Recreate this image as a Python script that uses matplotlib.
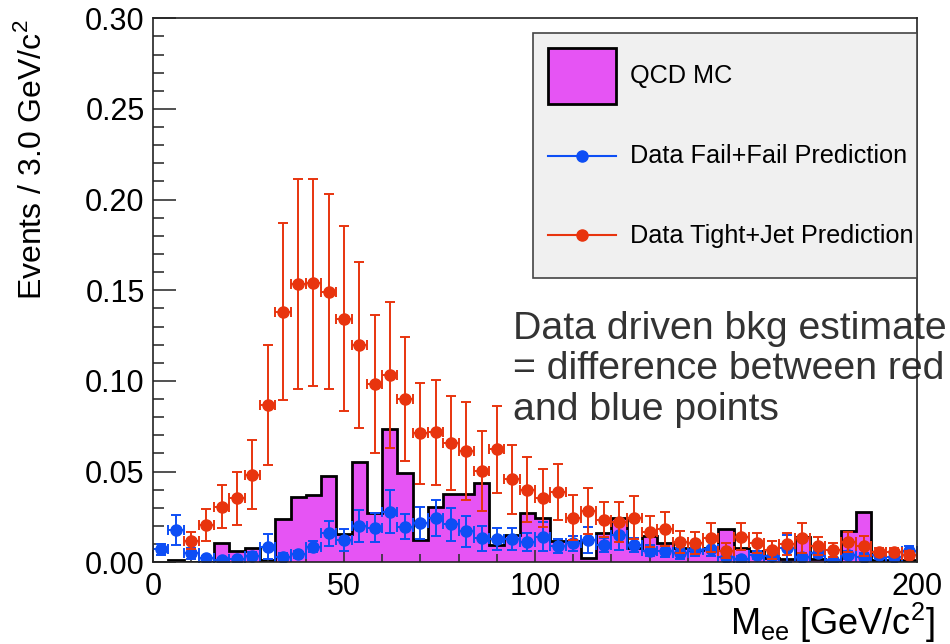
import numpy as np
import matplotlib
matplotlib.use('Agg')
import matplotlib.pyplot as plt
from matplotlib.lines import Line2D
from matplotlib.patches import Patch
from matplotlib.legend_handler import HandlerLine2D
from matplotlib.ticker import MultipleLocator, FormatStrFormatter

plt.rcParams['font.family'] = ['Liberation Sans', 'DejaVu Sans']
plt.rcParams['mathtext.fontset'] = 'custom'
plt.rcParams['mathtext.rm'] = 'Liberation Sans'

# 50 bins of 4 GeV between 0 and 200
edges = np.arange(0, 201, 4)

qcd_mc = [0.0, 0.001, 0.0, 0.0, 0.0108, 0.0064, 0.0077, 0.0013, 0.0239, 0.0362,
          0.0371, 0.0476, 0.0154, 0.0551, 0.0270, 0.0734, 0.0490, 0.0123, 0.0307, 0.0375,
          0.0375, 0.0436, 0.0096, 0.0150, 0.0274, 0.0246, 0.0120, 0.0120, 0.0022, 0.0160,
          0.0243, 0.0077, 0.0147, 0.0108, 0.0080, 0.0068, 0.0077, 0.0182, 0.0077, 0.0060,
          0.0022, 0.0020, 0.0140, 0.0020, 0.0015, 0.0175, 0.0276, 0.0010, 0.0010, 0.0010]

fail_x = np.arange(2, 200, 4)
fail_y = [0.0072, 0.0178, 0.0050, 0.0022, 0.0013, 0.0017, 0.0035, 0.0086, 0.0030, 0.0044,
          0.0086, 0.0160, 0.0125, 0.0200, 0.0190, 0.0280, 0.0197, 0.0215, 0.0243, 0.0210,
          0.0170, 0.0132, 0.0127, 0.0127, 0.0110, 0.0142, 0.0090, 0.0105, 0.0123, 0.0096,
          0.0150, 0.0096, 0.0065, 0.0060, 0.0050, 0.0066, 0.0075, 0.0030, 0.0017, 0.0040,
          0.0035, 0.0077, 0.0030, 0.0050, 0.0013, 0.0040, 0.0030, 0.0040, 0.0030, 0.0060]
fail_err = [0.003, 0.0085, 0.003, 0.0015, 0.001, 0.0012, 0.002, 0.007, 0.002, 0.002,
            0.003, 0.007, 0.006, 0.0088, 0.008, 0.012, 0.007, 0.0088, 0.0098, 0.009,
            0.0083, 0.007, 0.006, 0.006, 0.005, 0.008, 0.004, 0.004, 0.007, 0.004,
            0.008, 0.004, 0.003, 0.003, 0.003, 0.003, 0.004, 0.002, 0.0015, 0.002,
            0.002, 0.0075, 0.002, 0.002, 0.001, 0.002, 0.002, 0.002, 0.002, 0.003]

tight_x = np.arange(10, 200, 4)
tight_y = [0.0120, 0.0206, 0.0307, 0.0353, 0.0482, 0.0868, 0.1383, 0.1535, 0.1543, 0.1493,
           0.1342, 0.1198, 0.0982, 0.1033, 0.0900, 0.0711, 0.0717, 0.0656, 0.0616, 0.0504,
           0.0623, 0.0458, 0.0400, 0.0357, 0.0387, 0.0247, 0.0283, 0.0235, 0.0220, 0.0247,
           0.0168, 0.0185, 0.0110, 0.0108, 0.0135, 0.0064, 0.0142, 0.0108, 0.0068, 0.0101,
           0.0132, 0.0092, 0.0068, 0.0114, 0.0092, 0.0059, 0.0059, 0.0040]
tight_err = [0.0046, 0.0088, 0.012, 0.0145, 0.019, 0.033, 0.049, 0.058, 0.057, 0.054,
             0.051, 0.046, 0.038, 0.040, 0.034, 0.028, 0.029, 0.026, 0.027, 0.022,
             0.024, 0.019, 0.018, 0.016, 0.0155, 0.0125, 0.0125, 0.0097, 0.011, 0.012,
             0.0085, 0.0093, 0.006, 0.006, 0.008, 0.004, 0.0073, 0.0055, 0.005, 0.006,
             0.0083, 0.005, 0.004, 0.0055, 0.0055, 0.002, 0.002, 0.002]

magenta = '#e654f4'
blue = '#0d4ef5'
red = '#e8340e'


class CenteredLine(HandlerLine2D):
    # put the line handle at the middle of the tall legend rows
    def create_artists(self, legend, orig_handle, xdescent, ydescent, width, height,
                       fontsize, trans):
        arts = super().create_artists(legend, orig_handle, xdescent, ydescent, width,
                                      height, fontsize, trans)
        for a in arts:
            a.set_ydata(np.asarray(a.get_ydata()) - ydescent / 2)
        return arts


fig = plt.figure(figsize=(9.5, 6.44), dpi=100)
ax = fig.add_axes([153 / 950, 81.7 / 644, 764 / 950, 544 / 644])

ax.stairs(qcd_mc, edges, fill=True, facecolor=magenta, edgecolor='none', zorder=1)
ax.stairs(qcd_mc, edges, color='black', linewidth=2, zorder=1.1)

ax.errorbar(fail_x, fail_y, xerr=2, yerr=fail_err, fmt='o', color=blue, ms=8,
            elinewidth=1.4, capsize=3.5, capthick=1.4, zorder=2)
ax.errorbar(tight_x, tight_y, xerr=2, yerr=tight_err, fmt='o', color=red, ms=8,
            elinewidth=1.4, capsize=3.5, capthick=1.4, zorder=2.1)

ax.set_xlim(0, 200)
ax.set_ylim(0, 0.30)
ax.xaxis.set_major_locator(MultipleLocator(50))
ax.xaxis.set_minor_locator(MultipleLocator(10))
ax.yaxis.set_major_locator(MultipleLocator(0.05))
ax.yaxis.set_minor_locator(MultipleLocator(0.01))
ax.yaxis.set_major_formatter(FormatStrFormatter('%.2f'))
ax.tick_params(axis='both', which='both', direction='in', top=False, right=False,
               labelsize=22, width=1.2, color='#333333')
ax.tick_params(axis='y', which='major', length=16.5, pad=6)
ax.tick_params(axis='y', which='minor', length=8)
ax.tick_params(axis='x', which='major', length=8.6, pad=7)
ax.tick_params(axis='x', which='minor', length=5.8)
for s in ax.spines.values():
    s.set_linewidth(1.2)
    s.set_color('#222222')

ax.set_xlabel(r'M$_{\rm ee}$ [GeV/c$^{2}$]', fontsize=26, ha='right', va='baseline')
ax.xaxis.set_label_coords(1.0236, -0.1336)
ax.set_ylabel(r'Events / 3.0 GeV/c$^{2}$', fontsize=23, ha='right')
ax.yaxis.set_label_coords(-0.137, 0.997)

blue_h = Line2D([], [], color=blue, marker='o', ms=8, lw=1.5)
red_h = Line2D([], [], color=red, marker='o', ms=8, lw=1.5)
handles = [Patch(facecolor=magenta, edgecolor='black', linewidth=2), blue_h, red_h]
labels = ['QCD MC', 'Data Fail+Fail Prediction', 'Data Tight+Jet Prediction']
leg = ax.legend(handles, labels, loc='upper left', mode='expand',
                bbox_to_anchor=(0.4974, 0.0, 0.5026, 0.973), fontsize=18.2,
                handlelength=2.7, handleheight=3.0, labelspacing=0.96,
                borderpad=0.6, handletextpad=0.55, borderaxespad=0,
                fancybox=False, framealpha=1,
                handler_map={Line2D: CenteredLine()})
leg.get_frame().set_facecolor('#f0f0f0')
leg.get_frame().set_edgecolor('#444444')
leg.get_frame().set_linewidth(1.2)

ax.text(94.2, 0.1385, 'Data driven bkg estimate\n= difference between red\nand blue points',
        fontsize=28.3, color='#333333', ha='left', va='top', linespacing=1.15,
        zorder=0.5, clip_on=False)

fig.savefig('out.png', dpi=100)
